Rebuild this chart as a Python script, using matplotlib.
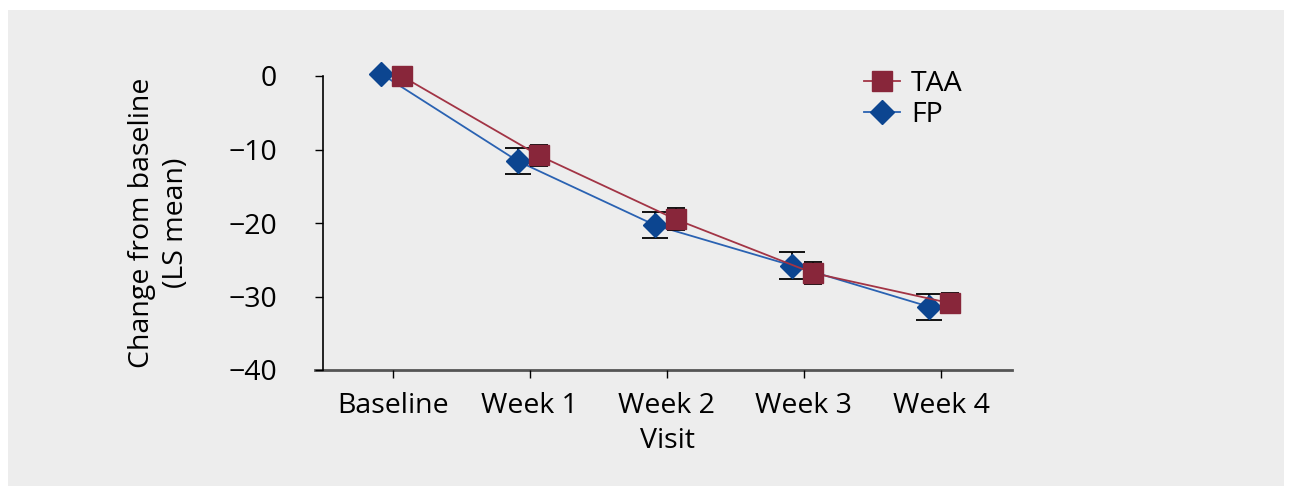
import matplotlib.pyplot as plt
from matplotlib.patches import Rectangle
from matplotlib.lines import Line2D

plt.rcParams['font.family'] = ['Open Sans', 'DejaVu Sans']

visits = ['Baseline', 'Week 1', 'Week 2', 'Week 3', 'Week 4']
taa_mean = [0.0, -10.8, -19.5, -26.8, -30.9]
taa_err = [0.0, 1.4, 1.5, 1.5, 1.4]
fp_mean = [0.3, -11.6, -20.3, -25.8, -31.4]
fp_err = [0.0, 1.75, 1.8, 1.8, 1.8]
yticks = [0, -10, -20, -30, -40]

taa_face = '#88263a'
taa_line = '#a23445'
fp_face = '#0c4590'
fp_line = '#2a62b2'
FS = 20.5

W, H = 1292, 495
fig = plt.figure(figsize=(W / 100, H / 100), dpi=100)
fig.patch.set_facecolor('white')
panel = Rectangle((8 / W, 1 - 486 / H), (1284 - 8) / W, (486 - 10) / H,
                  transform=fig.transFigure, facecolor='#ededed',
                  edgecolor='none', zorder=-10)
fig.add_artist(panel)

left, right = 323 / W, 1012 / W
bottom, top = 1 - 370 / H, 1 - 76 / H
ax = fig.add_axes([left, bottom, right - left, top - bottom])
ax.set_facecolor('none')
ax.set_zorder(1)

x = list(range(len(visits)))
x_fp = [i - 0.085 for i in x]
x_taa = [i + 0.065 for i in x]

# FP series
ax.plot(x_fp, fp_mean, color=fp_line, lw=1.3, zorder=2, clip_on=False)
ax.errorbar(x_fp[1:], fp_mean[1:], yerr=fp_err[1:], fmt='none', ecolor='black',
            elinewidth=1.3, capsize=9.7, capthick=1.3, zorder=3, clip_on=False)
ax.plot(x_fp, fp_mean, ls='none', marker='D', ms=12.7, mfc=fp_face, mec=fp_face,
        zorder=4, clip_on=False)

# TAA series
ax.plot(x_taa, taa_mean, color=taa_line, lw=1.3, zorder=5, clip_on=False)
ax.errorbar(x_taa[1:], taa_mean[1:], yerr=taa_err[1:], fmt='none', ecolor='black',
            elinewidth=1.3, capsize=6.5, capthick=1.3, zorder=6, clip_on=False)
ax.plot(x_taa, taa_mean, ls='none', marker='s', ms=13.7, mfc=taa_face, mec=taa_face,
        zorder=7, clip_on=False)

ax.set_xlim(-0.508, 4.518)
ax.set_ylim(-40, 0)
ax.set_yticks(yticks)
ax.set_yticklabels(['0' if v == 0 else '\u2212' + str(-v) for v in yticks])
ax.set_xticks(x)
ax.set_xticklabels(visits)

for s in ['top', 'right', 'bottom']:
    ax.spines[s].set_visible(False)
ax.spines['left'].set_linewidth(1.2)
ax.spines['left'].set_color('black')
ax.add_line(Line2D([-0.012, 1.0], [0, 0], transform=ax.transAxes, color='#555555',
                   lw=2.0, clip_on=False, zorder=1))

ax.tick_params(axis='y', direction='out', length=6, width=1.0, labelsize=FS,
               pad=27, colors='black')
ax.tick_params(axis='x', direction='out', length=6, width=1.0, labelsize=FS,
               pad=10, colors='black')

ax.set_xlabel('Visit', fontsize=FS, labelpad=5)
ax.set_ylabel('Change from baseline\n(LS mean)', fontsize=FS, labelpad=28,
              linespacing=1.25)

handles = [
    Line2D([], [], color=taa_line, lw=1.3, marker='s', ms=13.7, mfc=taa_face, mec=taa_face),
    Line2D([], [], color=fp_line, lw=1.3, marker='D', ms=12.7, mfc=fp_face, mec=fp_face),
]
ax.legend(handles, ['TAA', 'FP'], loc='upper left', bbox_to_anchor=(850 / W, 1 - 56 / H),
          bbox_transform=fig.transFigure, frameon=False, fontsize=FS,
          handlelength=1.25, handletextpad=0.4, labelspacing=0.1, borderpad=0)

fig.savefig('out.png', dpi=100)
